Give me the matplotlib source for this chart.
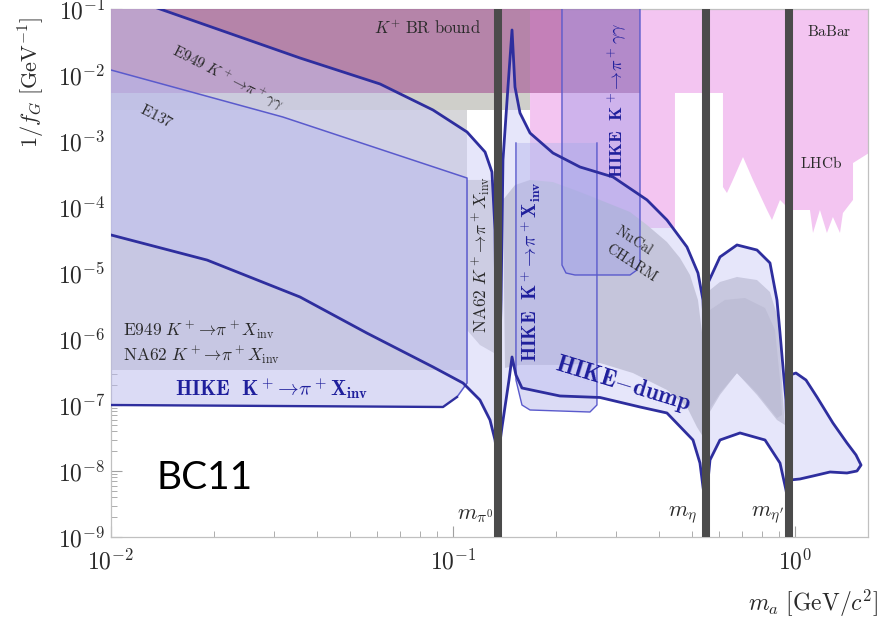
import numpy as np
import matplotlib
matplotlib.use("Agg")
import matplotlib.pyplot as plt

plt.rcParams['mathtext.fontset'] = 'cm'
plt.rcParams['font.family'] = 'DejaVu Serif'

# ---------------- data (m_a in GeV, 1/f_G in GeV^-1) ----------------
m_pi0, m_eta, m_etap = 0.135, 0.548, 0.958

# HIKE-dump sensitivity: upper (A) and lower (B) boundaries, per mass segment
A1_m = [0.0100, 0.01391, 0.02083, 0.0357, 0.0612, 0.0874, 0.1099, 0.1241, 0.1300, 0.1327, 0.1336, 0.1350]
A1_g = [0.181, 0.100, 0.0481, 0.0181, 0.00731, 0.00295, 0.00137, 6.81e-4, 3.39e-4, 4.48e-5, 1.37e-6, 1.47e-8]
B1_m = [0.0100, 0.0191, 0.0357, 0.0560, 0.0874, 0.1070, 0.1199, 0.1283, 0.1327, 0.1350]
B1_g = [3.77e-5, 1.57e-5, 4.33e-6, 1.23e-6, 3.77e-7, 2.15e-7, 1.19e-7, 5.93e-8, 2.95e-8, 1.47e-8]

A2_m = [0.1350, 0.1382, 0.1400, 0.1448, 0.1488, 0.1518, 0.1570, 0.1680, 0.1960, 0.2351, 0.2937,
        0.3692, 0.4223, 0.4832, 0.5204, 0.5383, 0.5456, 0.548]
A2_g = [1.47e-8, 3.90e-6, 5.15e-4, 6.58e-3, 0.0481, 6.58e-3, 2.66e-3, 1.32e-3, 6.58e-4, 4.04e-4, 2.85e-4,
        1.28e-4, 6.35e-5, 2.48e-5, 1.0e-5, 3.90e-6, 6.81e-7, 3.05e-9]
B2_m = [0.1350, 0.1391, 0.1458, 0.1488, 0.1528, 0.1591, 0.2055, 0.2690, 0.3522, 0.4223, 0.5032, 0.5274, 0.5383, 0.548]
B2_g = [1.47e-8, 4.64e-8, 2.39e-7, 5.34e-7, 2.85e-7, 1.81e-7, 1.37e-7, 1.30e-7, 9.33e-8, 7.57e-8, 2.95e-8, 1.32e-8, 5.72e-9, 3.05e-9]

A3_m = [0.548, 0.5567, 0.6035, 0.6767, 0.7742, 0.8451, 0.8858, 0.9041, 0.9224, 0.9412, 0.958]
A3_g = [3.05e-9, 7.06e-6, 1.75e-5, 2.66e-5, 2.23e-5, 1.42e-5, 3.90e-6, 1.23e-6, 3.77e-7, 1.19e-7, 3.05e-9]
B3_m = [0.548, 0.5643, 0.6035, 0.6906, 0.8173, 0.9041, 0.9412, 0.958]
B3_g = [3.05e-9, 1.47e-8, 2.95e-8, 3.77e-8, 2.95e-8, 1.32e-8, 5.15e-9, 3.05e-9]

L_m = [0.9669, 1.0067, 1.0769, 1.1595, 1.291, 1.419, 1.508, 1.560, 1.518, 1.419, 1.266, 1.129, 1.034, 0.9669]
L_g = [2.85e-7, 3.05e-7, 2.39e-7, 1.32e-7, 5.34e-8, 2.66e-8, 1.75e-8, 1.23e-8, 1.0e-8, 9.33e-9, 9.66e-9, 8.40e-9, 7.57e-9, 7.31e-9]

# HIKE K+ -> pi+ X_inv regions
K1_m = [0.0100, 0.0318, 0.1099, 0.1099, 0.1027, 0.0935, 0.0100]
K1_g = [0.0119, 0.00231, 2.75e-4, 2.15e-7, 1.32e-7, 9.33e-8, 1.0e-7]
K2_m = [0.1528, 0.1528, 0.1591, 0.1680, 0.2515, 0.2636, 0.2636]
K2_g = [9.33e-4, 2.39e-7, 1.0e-7, 8.40e-8, 7.83e-8, 1.0e-7, 9.33e-4]

# HIKE K+ -> pi+ gamma gamma
G_m = [0.2083, 0.2083, 0.2140, 0.2273, 0.3293, 0.3451, 0.3522, 0.3522]
G_g = [0.1, 1.32e-5, 1.0e-5, 9.33e-6, 9.33e-6, 1.11e-5, 1.47e-5, 0.1]

# K+ BR bound
KBR_m = [0.0100, 0.3522, 0.3522, 0.0100]
KBR_g = [0.1, 0.1, 5.34e-3, 5.34e-3]

# BaBar / LHCb
P_m = [0.1680, 1.70, 1.70, 1.478, 1.478, 1.381, 1.354, 1.291, 1.240, 1.183, 1.129, 1.106, 0.9866, 0.9475,
       0.9041, 0.8566, 0.8283, 0.7536, 0.7047, 0.6586, 0.6326, 0.6158, 0.6158, 0.4457, 0.4457, 0.3522, 0.1680]
P_g = [0.1, 0.1, 7.31e-4, 4.64e-4, 1.28e-4, 8.11e-5, 4.04e-5, 7.06e-5, 4.04e-5, 9.01e-5, 4.04e-5, 9.01e-5, 9.01e-5, 1.0e-4,
       1.28e-4, 6.35e-5, 9.01e-5, 2.57e-4, 5.72e-4, 2.57e-4, 1.63e-4, 2.01e-4, 5.34e-3, 5.34e-3, 4.81e-5, 4.81e-5, 2.23e-5]

# existing (grey) bounds
GA_m = [0.0100, 0.1680, 0.1680, 0.0100]
GA_g = [0.1, 0.1, 2.95e-3, 2.95e-3]
GB_m = [0.0100, 0.1099, 0.1099, 0.0100]
GB_g = [2.95e-3, 2.95e-3, 3.39e-7, 3.39e-7]
GC_m = [0.1099, 0.1350, 0.1350, 0.1199, 0.1099]
GC_g = [2.57e-4, 2.57e-4, 5.72e-7, 8.11e-7, 1.37e-6]
GD_m = [0.1400, 0.1518, 0.1680, 0.1960, 0.2351, 0.2690, 0.3293, 0.3692, 0.4223, 0.4611, 0.4932, 0.5204, 0.5383, 0.5456,
        0.5456, 0.5168, 0.4832, 0.4223, 0.3359, 0.2690, 0.2055, 0.1570, 0.1419]
GD_g = [1.28e-4, 2.15e-4, 2.57e-4, 2.39e-4, 1.69e-4, 1.28e-4, 8.40e-5, 5.34e-5, 2.95e-5, 1.69e-5, 9.33e-6, 3.90e-6, 9.66e-7, 1.19e-7,
        2.95e-8, 4.64e-8, 9.33e-8, 1.69e-7, 3.05e-7, 4.33e-7, 4.04e-7, 4.04e-7, 3.64e-7]
GE_m = [0.5643, 0.6035, 0.6767, 0.7742, 0.8451, 0.8858, 0.9041, 0.9224, 0.9349, 0.8858, 0.7742, 0.6767, 0.6035, 0.5567]
GE_g = [5.53e-6, 7.31e-6, 8.70e-6, 7.83e-6, 5.15e-6, 2.31e-6, 6.81e-7, 1.19e-7, 4.98e-8, 5.93e-8, 1.42e-7, 3.05e-7, 1.42e-7, 7.06e-8]
GEi_m = [0.5643, 0.6240, 0.7140, 0.8173, 0.8740, 0.9041, 0.9162, 0.8858, 0.7742, 0.6767, 0.6035, 0.5605]
GEi_g = [2.75e-6, 3.90e-6, 4.18e-6, 2.95e-6, 1.37e-6, 2.39e-7, 7.06e-8, 6.35e-8, 1.52e-7, 3.05e-7, 1.52e-7, 8.40e-8]

xticks = [0.01, 0.1, 1.0]
xticklabels = [r'$10^{-2}$', r'$10^{-1}$', r'$10^{0}$']
yticks = [1e-9, 1e-8, 1e-7, 1e-6, 1e-5, 1e-4, 1e-3, 1e-2, 1e-1]
yticklabels = [r'$10^{-9}$', r'$10^{-8}$', r'$10^{-7}$', r'$10^{-6}$', r'$10^{-5}$',
               r'$10^{-4}$', r'$10^{-3}$', r'$10^{-2}$', r'$10^{-1}$']

# ---------------- figure ----------------
W, H = 882, 622
fig = plt.figure(figsize=(W / 100, H / 100), dpi=100)
ax = fig.add_axes([111 / W, 1 - 537 / H, (868 - 111) / W, (537 - 9) / H])
ax.set_xscale('log')
ax.set_yscale('log')
ax.set_xlim(0.01, 1.635)
ax.set_ylim(1e-9, 1e-1)

pink = '#f3c5f1'
dark = '#2e2e9e'
thin = '#5a5acc'
blue_txt = '#1f1f9c'
txt = '#2a2a2a'

ax.fill(P_m, P_g, color=pink, lw=0, zorder=1)
ax.fill(GA_m, GA_g, color='#cfcfca', lw=0, zorder=2)
ax.fill(GB_m, GB_g, color='#d7d7da', lw=0, zorder=2)
ax.fill(GC_m, GC_g, color='#d2d2d6', lw=0, zorder=2)
ax.fill(GD_m, GD_g, color='#c4c4c7', lw=0, zorder=2)
ax.fill(GE_m, GE_g, color='#c8c8cd', lw=0, zorder=2)
ax.fill(GEi_m, GEi_g, color='#b6b6bd', lw=0, zorder=2.1)

ax.fill(KBR_m, KBR_g, color='#a55293', alpha=0.6, lw=0, zorder=3)

dump_c = '#c8c8f5'
for am, ag, bm, bg in [(A1_m, A1_g, B1_m, B1_g), (A2_m, A2_g, B2_m, B2_g), (A3_m, A3_g, B3_m, B3_g)]:
    ax.fill(list(am) + list(bm)[::-1], list(ag) + list(bg)[::-1], color=dump_c, alpha=0.45, lw=0, zorder=4)
ax.fill(L_m, L_g, color=dump_c, alpha=0.45, lw=0, zorder=4)

ax.fill(K1_m, K1_g, color='#b9b9ed', alpha=0.5, lw=0, zorder=5)
ax.plot(K1_m[:5], K1_g[:5], color=thin, lw=1.1, zorder=6)
ax.plot(K1_m[4:], K1_g[4:], color=dark, lw=1.7, zorder=6)
ax.fill(K2_m, K2_g, color='#b9b9ed', alpha=0.5, lw=0, zorder=5)
ax.plot(K2_m, K2_g, color=thin, lw=1.0, zorder=6)
ax.fill(G_m, G_g, color='#9a9ae6', alpha=0.4, lw=0, zorder=5)
ax.plot(G_m, G_g, color=thin, lw=1.0, zorder=6)

for mm, gg in [(A1_m, A1_g), (B1_m, B1_g), (A2_m, A2_g), (B2_m, B2_g), (A3_m, A3_g), (B3_m, B3_g), (L_m, L_g)]:
    ax.plot(mm, gg, color=dark, lw=2.0, zorder=7, solid_joinstyle='round')

for m in (m_pi0, m_eta, m_etap):
    ax.axvline(m, color='#4b4b4b', lw=5.8, zorder=20)

# axes styling
ax.set_xticks(xticks)
ax.set_xticklabels(xticklabels)
ax.set_yticks(yticks)
ax.set_yticklabels(yticklabels)
ax.xaxis.set_minor_formatter(matplotlib.ticker.NullFormatter())
ax.yaxis.set_minor_formatter(matplotlib.ticker.NullFormatter())
ax.tick_params(which='both', direction='in', color='#a0a0a0', labelcolor=txt)
ax.tick_params(which='major', length=8, width=0.8, labelsize=17)
ax.tick_params(axis='x', which='major', pad=9)
ax.tick_params(axis='y', which='major', pad=4)
ax.tick_params(which='minor', length=4, width=0.6)
for s in ax.spines.values():
    s.set_color('#c0c0c0')
    s.set_linewidth(0.9)


def T(px, py, s, **kw):
    kw.setdefault('color', txt)
    kw.setdefault('ha', 'center')
    kw.setdefault('va', 'center')
    ax.text(px / W, 1 - py / H, s, transform=fig.transFigure, **kw)


T(428, 29, r'$K^{+}\ \mathrm{BR\ bound}$', fontsize=12, zorder=10)
T(829, 31, r'$\mathrm{BaBar}$', fontsize=11, zorder=10)
T(821, 163, r'$\mathrm{LHCb}$', fontsize=11, zorder=10)
T(228, 78, r'$\mathrm{E949}\ K^+\!\to\!\pi^+\gamma\gamma$', fontsize=11, rotation=-27, zorder=10)
T(157, 116, r'$\mathrm{E137}$', fontsize=11, rotation=-27, zorder=10)
T(123, 330, r'$\mathrm{E949}\ K^+\!\to\!\pi^+X_{\rm inv}$', fontsize=12.5, ha='left', zorder=10)
T(123, 355, r'$\mathrm{NA62}\ K^+\!\to\!\pi^+X_{\rm inv}$', fontsize=12.5, ha='left', zorder=10)
T(175, 389, r'$\mathbf{HIKE}\ \ \mathbf{K^+\!\to\!\pi^+X_{inv}}$', fontsize=15, ha='left', color=blue_txt, zorder=10)
T(481, 255, r'$\mathrm{NA62}\ K^+\!\to\!\pi^+X_{\rm inv}$', fontsize=12.5, rotation=90, zorder=10)
T(531, 272, r'$\mathbf{HIKE}\ \ \mathbf{K^+\!\to\!\pi^+X_{inv}}$', fontsize=14, rotation=90, color=blue_txt, zorder=10)
T(618, 100, r'$\mathbf{HIKE}\ \ \mathbf{K^+\!\to\!\pi^+\gamma\gamma}$', fontsize=13, rotation=90, color=blue_txt, zorder=10)
T(634, 240, r'$\mathrm{NuCal}$', fontsize=10.5, rotation=-33, zorder=10)
T(632, 262, r'$\mathrm{CHARM}$', fontsize=10.5, rotation=-33, zorder=10)
T(623, 384, r'$\mathbf{HIKE{-}dump}$', fontsize=17, rotation=-17, color=blue_txt, zorder=10)
T(493, 515, r'$m_{\pi^0}$', fontsize=16, ha='right', zorder=10)
T(697, 514, r'$m_{\eta}$', fontsize=16, ha='right', zorder=10)
T(784, 514, r"$m_{\eta'}$", fontsize=16, ha='right', zorder=10)
T(156, 478, 'BC11', fontsize=28, ha='left', color='black', family='Lato', zorder=10)

fig.text(32 / W, 1 - 82 / H, r'$1/f_G\ [\mathrm{GeV}^{-1}]$', rotation=90, fontsize=16,
         ha='center', va='center', color=txt)
fig.text(878 / W, 1 - 603 / H, r'$m_a\ [\mathrm{GeV}/c^2]$', fontsize=17, ha='right', va='center', color=txt)

fig.savefig('out.png', dpi=100)
